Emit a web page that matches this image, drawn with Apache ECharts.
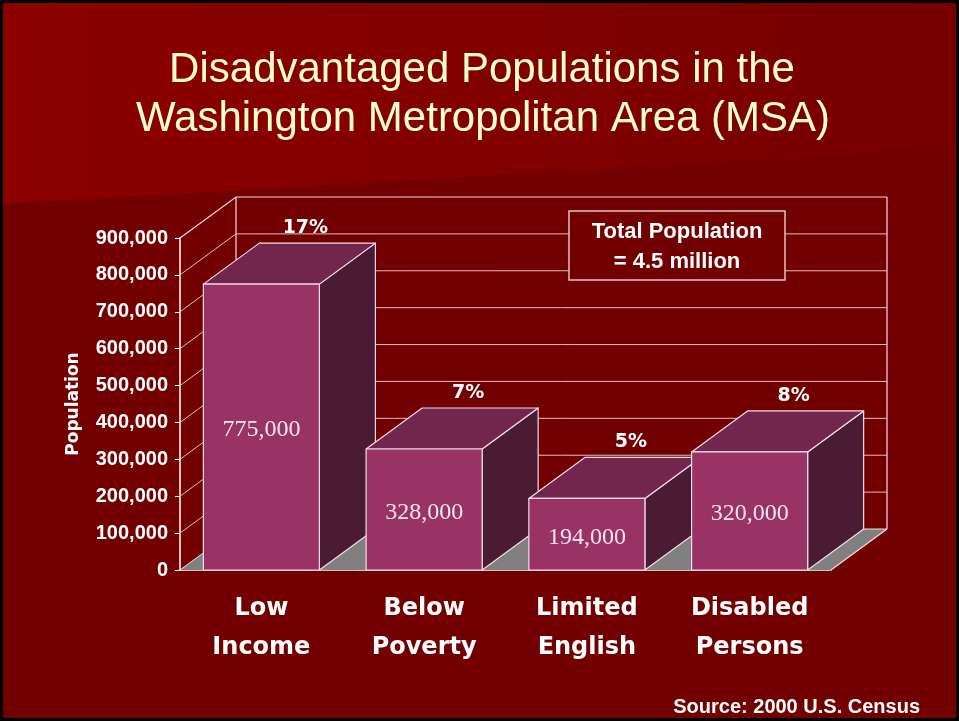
<!DOCTYPE html>
<html>
<head>
<meta charset="utf-8">
<script src="https://cdn.jsdelivr.net/npm/echarts@6/dist/echarts.min.js"></script>
<style>
  html, body { margin: 0; padding: 0; background: #720000; }
  #chart { width: 959px; height: 721px; }
</style>
</head>
<body>
<div id="chart"></div>
<script>
const categories = ['Low Income', 'Below Poverty', 'Limited English', 'Disabled Persons']
const populations = [775000, 328000, 194000, 320000]
const shares = ['17%', '7%', '5%', '8%']
const yTicks = [0, 100000, 200000, 300000, 400000, 500000, 600000, 700000, 800000, 900000]

// depth of the fake 3D box, in pixels
const DX = 56
const DY = -41
const WALL = '#dcc0c0'
const EDGE = '#f2dce8'

const chart = echarts.init(document.getElementById('chart'))

function fmt(v) {
  return Number(v).toLocaleString('en-US')
}

function renderWall(params, api) {
  const cs = params.coordSys
  const v = api.value(1)
  const y = api.coord([0, v])[1]
  const left = cs.x
  const right = cs.x + cs.width
  const children = []
  if (v === 0) {
    children.push({
      type: 'polygon',
      shape: { points: [[left, y], [right, y], [right + DX, y + DY], [left + DX, y + DY]] },
      style: { fill: '#808080', stroke: null },
    })
    children.push({
      type: 'polyline',
      shape: { points: [[right, y], [right + DX, y + DY]] },
      style: { stroke: EDGE, lineWidth: 1.2, fill: null },
    })
    const top = api.coord([0, yTicks[yTicks.length - 1]])[1]
    children.push({
      type: 'line',
      shape: { x1: left + DX, y1: y + DY, x2: left + DX, y2: top + DY },
      style: { stroke: EDGE, lineWidth: 1.2 },
    })
    children.push({
      type: 'line',
      shape: { x1: right + DX, y1: y + DY, x2: right + DX, y2: top + DY },
      style: { stroke: EDGE, lineWidth: 1.2 },
    })
  }
  const isTop = v === yTicks[yTicks.length - 1]
  children.push({
    type: 'polyline',
    shape: { points: [[left, y], [left + DX, y + DY], [right + DX, y + DY]] },
    style: { stroke: isTop || v === 0 ? EDGE : WALL, lineWidth: isTop ? 1.2 : 1, fill: null },
  })
  return { type: 'group', children }
}

function renderBar(params, api) {
  const idx = api.value(0)
  const v = api.value(1)
  const topPt = api.coord([idx, v])
  const basePt = api.coord([idx, 0])
  const w = api.size([1, 0])[0] * 0.713
  const l = topPt[0] - w / 2
  const r = topPt[0] + w / 2
  const t = topPt[1]
  const b = basePt[1]
  const edge = { stroke: EDGE, lineWidth: 1.2, lineJoin: 'round' }
  return {
    type: 'group',
    children: [
      {
        type: 'polygon',
        shape: { points: [[r, t], [r + DX, t + DY], [r + DX, b + DY], [r, b]] },
        style: Object.assign({ fill: '#4b1a33' }, edge),
      },
      {
        type: 'polygon',
        shape: { points: [[l, t], [r, t], [r + DX, t + DY], [l + DX, t + DY]] },
        style: Object.assign({ fill: '#72264e' }, edge),
      },
      {
        type: 'rect',
        shape: { x: l, y: t, width: w, height: b - t },
        style: Object.assign({ fill: '#993366' }, edge),
      },
      {
        type: 'text',
        x: topPt[0],
        y: (t + b) / 2 + 3,
        style: {
          text: fmt(v),
          fill: '#f6e6f0',
          font: '24px "Liberation Serif", "Times New Roman", serif',
          align: 'center',
          verticalAlign: 'middle',
        },
      },
      {
        type: 'text',
        x: topPt[0] + 44,
        y: t + DY - 15,
        style: {
          text: shares[params.dataIndex],
          fill: '#ffffff',
          font: 'bold 19px "DejaVu Sans", sans-serif',
          align: 'center',
          verticalAlign: 'middle',
        },
      },
    ],
  }
}

chart.setOption({
  backgroundColor: '#720000',
  animation: false,
  grid: { left: 180, right: 128, top: 238, bottom: 151 },
  graphic: [
    {
      type: 'polygon',
      z: -10,
      silent: true,
      shape: { points: [[0, 0], [959, 0], [959, 148], [0, 204]] },
      style: {
        fill: new echarts.graphic.LinearGradient(0, 0, 1, 0, [
          { offset: 0, color: '#8c0000' },
          { offset: 1, color: '#760000' },
        ]),
      },
    },
    {
      type: 'rect',
      z: 200,
      silent: true,
      shape: { x: 1.5, y: 1.5, width: 956, height: 718 },
      style: { fill: null, stroke: '#000000', lineWidth: 3 },
    },
    {
      type: 'text',
      z: 50,
      x: 482,
      y: 70,
      style: {
        text: 'Disadvantaged Populations in the',
        fill: '#ffffcc',
        font: '42px "Liberation Sans", Arial, sans-serif',
        align: 'center',
        verticalAlign: 'middle',
        textShadowColor: '#250000',
        textShadowOffsetX: 2,
        textShadowOffsetY: 2,
      },
    },
    {
      type: 'text',
      z: 50,
      x: 483,
      y: 119,
      style: {
        text: 'Washington Metropolitan Area (MSA)',
        fill: '#ffffcc',
        font: '42px "Liberation Sans", Arial, sans-serif',
        align: 'center',
        verticalAlign: 'middle',
        textShadowColor: '#250000',
        textShadowOffsetX: 2,
        textShadowOffsetY: 2,
      },
    },
    {
      type: 'rect',
      z: 50,
      shape: { x: 569, y: 211, width: 216, height: 69 },
      style: { fill: '#720000', stroke: '#dcc4c4', lineWidth: 1.5 },
    },
    {
      type: 'text',
      z: 51,
      x: 677,
      y: 232,
      style: {
        text: 'Total Population',
        fill: '#ffffff',
        font: 'bold 22px "Liberation Sans", Arial, sans-serif',
        align: 'center',
        verticalAlign: 'middle',
      },
    },
    {
      type: 'text',
      z: 51,
      x: 677,
      y: 262,
      style: {
        text: '= 4.5 million',
        fill: '#ffffff',
        font: 'bold 22px "Liberation Sans", Arial, sans-serif',
        align: 'center',
        verticalAlign: 'middle',
      },
    },
    {
      type: 'text',
      z: 51,
      x: 920,
      y: 707,
      style: {
        text: 'Source: 2000 U.S. Census',
        fill: '#ffffff',
        font: 'bold 20px "Liberation Sans", Arial, sans-serif',
        align: 'right',
        verticalAlign: 'middle',
      },
    },
  ],
  xAxis: {
    type: 'category',
    data: categories,
    axisLine: { lineStyle: { color: '#ffffff', width: 1.5 } },
    axisTick: { length: 6, lineStyle: { color: '#ffffff' } },
    axisLabel: {
      color: '#ffffff',
      fontFamily: '"DejaVu Sans", sans-serif',
      fontWeight: 'bold',
      fontSize: 24,
      lineHeight: 39,
      margin: 19,
      formatter: (name) => name.replace(' ', '\n'),
    },
    splitLine: { show: false },
  },
  yAxis: {
    type: 'value',
    min: 0,
    max: 900000,
    interval: 100000,
    name: 'Population',
    nameLocation: 'middle',
    nameRotate: 90,
    nameGap: 98,
    nameTextStyle: {
      color: '#ffffff',
      fontFamily: '"DejaVu Sans", sans-serif',
      fontWeight: 'bold',
      fontSize: 17,
    },
    axisLine: { show: true, lineStyle: { color: '#ffffff', width: 1.5 } },
    axisTick: { show: true, length: 5, lineStyle: { color: '#ffffff' } },
    axisLabel: {
      color: '#ffffff',
      fontFamily: '"Liberation Sans", Arial, sans-serif',
      fontWeight: 'bold',
      fontSize: 20,
      margin: 12,
      formatter: fmt,
    },
    splitLine: { show: false },
  },
  series: [
    {
      type: 'custom',
      name: 'walls',
      z: 1,
      silent: true,
      renderItem: renderWall,
      data: yTicks.map((v) => [0, v]),
      encode: { x: 0, y: 1 },
    },
    {
      type: 'custom',
      name: 'Population',
      z: 3,
      renderItem: renderBar,
      data: populations.map((v, i) => [i, v]),
      encode: { x: 0, y: 1 },
    },
  ],
})
</script>
</body>
</html>
